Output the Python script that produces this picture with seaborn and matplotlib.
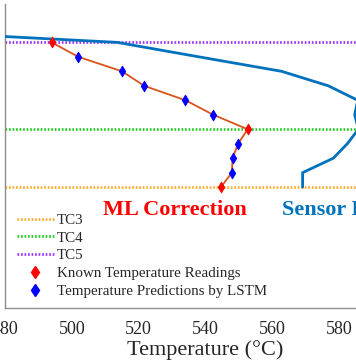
import numpy as np
import pandas as pd
import matplotlib
matplotlib.use("Agg")
import matplotlib.pyplot as plt
from matplotlib.lines import Line2D
import seaborn as sns

# ---- data ----
level_height = [18.35, 17.35, 16.35, 15.35, 14.35, 13.35, 12.35, 11.35, 10.35, 9.35, 8.35]
ml_temp = [493.9, 501.9, 515.0, 521.6, 534.0, 542.3, 552.6, 549.8, 548.1, 547.9, 544.6]
known_height = [18.35, 12.35, 8.35]
known_temp = [493.9, 552.6, 544.6]
lstm_height = [17.35, 16.35, 15.35, 14.35, 13.35, 11.35, 10.35, 9.35]
lstm_temp = [501.9, 515.0, 521.6, 534.0, 542.3, 549.8, 548.1, 547.9]
sensor_height = [19.35, 18.35, 17.35, 16.35, 15.35, 14.35, 13.35, 12.35, 11.35, 10.35, 9.35, 8.35]
sensor_temp = [430.0, 513.5, 538.0, 562.8, 576.8, 585.6, 584.7, 585.8, 582.5, 578.3, 569.1, 569.1]
tc_names = ["TC3", "TC4", "TC5"]
tc_height = [8.35, 12.35, 18.35]
tc_colors = ["#FFAA2A", "#22CC22", "#9933FF"]
x_ticks = [480, 500, 520, 540, 560, 580, 600]
y_ticks = [0, 5, 10, 15, 20]

sns.set_style("white")
plt.rcParams["font.family"] = ["Liberation Serif", "DejaVu Serif"]
plt.rcParams["mathtext.fontset"] = "stix"

W, H = 356, 364
fig = plt.figure(figsize=(W / 100, H / 100), dpi=100)
# axes extends beyond the right edge (the reference is a crop)
ax = fig.add_axes([5.25 / W, (H - 308) / H, 400.5 / W, 304 / H])

dot_style = (0, (0.62, 0.68))
# horizontal thermocouple lines
for name, hgt, col in zip(tc_names, tc_height, tc_colors):
    ax.axhline(hgt, color=col, lw=1.95, ls=dot_style, zorder=2)

sensor_df = pd.DataFrame({"temp": sensor_temp, "h": sensor_height})
sns.lineplot(data=sensor_df, x="temp", y="h", sort=False, estimator=None,
             color="#0072BD", lw=2.0, ax=ax, zorder=3)

ml_df = pd.DataFrame({"temp": ml_temp, "h": level_height})
sns.lineplot(data=ml_df, x="temp", y="h", sort=False, estimator=None,
             color="#D95319", lw=1.3, ax=ax, zorder=4)

sns.scatterplot(x=lstm_temp, y=lstm_height, marker="d", s=30, color="#0000FF",
                edgecolor="#0000FF", linewidth=0.6, ax=ax, zorder=5)
sns.scatterplot(x=known_temp, y=known_height, marker="d", s=30, color="#FF0000",
                edgecolor="#FF0000", linewidth=0.6, ax=ax, zorder=6)

ax.set_xlim(480, 600)
ax.set_ylim(0, 21)
ax.set_xticks(x_ticks)
ax.set_yticks(y_ticks)
ax.set_xlabel("Temperature (°C)", fontsize=16, labelpad=2)
ax.set_ylabel("")

for s in ["top", "right"]:
    ax.spines[s].set_visible(False)
for s in ["left", "bottom"]:
    ax.spines[s].set_color("#8c8c8c")
    ax.spines[s].set_linewidth(1.0)
ax.tick_params(axis="both", direction="in", length=3, width=0.8, color="#8c8c8c")
ax.tick_params(axis="x", labelsize=13, pad=9, labelcolor="#262626")
ax.tick_params(axis="y", labelsize=13, pad=10, labelcolor="#262626")

ax.text(509.3, 6.42, "ML Correction", color="#FF0000", fontsize=16,
        fontweight="bold", va="baseline", ha="left")
ax.text(562.9, 6.42, "Sensor Readings", color="#0072BD", fontsize=16,
        fontweight="bold", va="baseline", ha="left")

handles = [Line2D([], [], color=c, lw=1.95, ls=dot_style) for c in tc_colors]
handles += [
    Line2D([], [], color="#FF0000", marker="d", ls="none", ms=6.5),
    Line2D([], [], color="#0000FF", marker="d", ls="none", ms=6.5),
]
labels = tc_names + ["Known Temperature Readings", "Temperature Predictions by LSTM"]
fig.legend(handles, labels, loc="upper left",
           bbox_to_anchor=(17 / W, 1 - 213.5 / H), frameon=False,
           fontsize=10.8, handlelength=2.45, handletextpad=0.2,
           labelspacing=0.28, borderpad=0, borderaxespad=0)

fig.savefig("out.png", dpi=100)
